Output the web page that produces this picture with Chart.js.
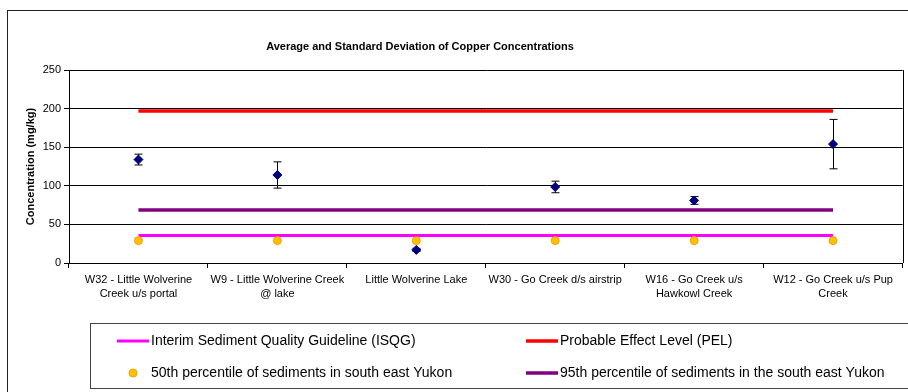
<!DOCTYPE html>
<html>
<head>
<meta charset="utf-8">
<title>Copper Concentrations</title>
<script src="https://cdn.jsdelivr.net/npm/chart.js@4.4.1/dist/chart.umd.min.js"></script>
<style>
  html, body { margin: 0; padding: 0; background: #fff; }
  canvas { display: block; }
</style>
</head>
<body>
<canvas id="copper-chart" width="908" height="392"></canvas>
<script>
// Sampling sites (two-line labels)
const sites = [
  ['W32 - Little Wolverine', 'Creek u/s portal'],
  ['W9 - Little Wolverine Creek', '@ lake'],
  'Little Wolverine Lake',
  'W30 - Go Creek d/s airstrip',
  ['W16 - Go Creek u/s', 'Hawkowl Creek'],
  ['W12 - Go Creek u/s Pup', 'Creek'],
];

// Copper, mg/kg
const copperMean = [134, 114, 17, 98.5, 81, 154];
const copperSd = [7, 17, 2, 7.5, 5, 32];

// Reference levels, mg/kg
const isqgLevel = 35.7;
const pelLevel = 197;
const p50Level = 29;
const p95Level = 68.5;

const yTicks = [0, 50, 100, 150, 200, 250];

const FONT = "'Liberation Sans', Arial, sans-serif";
Chart.defaults.font.family = FONT;
Chart.defaults.color = '#000';

const flat = (v) => sites.map(() => v);

const datasets = [
  {
    label: 'Average',
    data: copperMean,
    showLine: false,
    pointStyle: 'rectRot',
    pointRadius: 4.5,
    backgroundColor: '#000080',
    borderColor: '#000080',
    borderWidth: 1,
  },
  {
    label: '50th percentile of sediments in south east Yukon',
    data: flat(p50Level),
    showLine: false,
    pointStyle: 'circle',
    pointRadius: 4,
    backgroundColor: '#FFC000',
    borderColor: '#F5A000',
    borderWidth: 1,
  },
  {
    label: 'Interim Sediment Quality Guideline (ISQG)',
    data: flat(isqgLevel),
    borderColor: '#FF00FF',
    borderWidth: 3,
    pointRadius: 0,
  },
  {
    label: '95th percentile of sediments in the south east Yukon',
    data: flat(p95Level),
    borderColor: '#800080',
    borderWidth: 3.5,
    pointRadius: 0,
  },
  {
    label: 'Probable Effect Level (PEL)',
    data: flat(pelLevel),
    borderColor: '#FF0000',
    borderWidth: 3.5,
    pointRadius: 0,
  },
];

// error bars: mean +/- standard deviation
const errorBars = {
  id: 'errorBars',
  beforeDatasetsDraw(chart) {
    const { ctx, scales: { x, y } } = chart;
    ctx.save();
    ctx.strokeStyle = '#000';
    ctx.lineWidth = 1;
    copperMean.forEach((m, i) => {
      const px = Math.round(x.getPixelForValue(i)) + 0.5;
      const top = y.getPixelForValue(m + copperSd[i]);
      const bot = y.getPixelForValue(m - copperSd[i]);
      ctx.beginPath();
      ctx.moveTo(px, top);
      ctx.lineTo(px, bot);
      ctx.moveTo(px - 4, top);
      ctx.lineTo(px + 4, top);
      ctx.moveTo(px - 4, bot);
      ctx.lineTo(px + 4, bot);
      ctx.stroke();
    });
    ctx.restore();
  },
};

// frame, title, right edge of plot and the boxed legend
const decorations = {
  id: 'decorations',
  afterDraw(chart) {
    const { ctx, chartArea } = chart;
    ctx.save();

    ctx.strokeStyle = '#222';
    ctx.lineWidth = 1;
    ctx.strokeRect(7.5, 10.5, 1000, 1000);

    ctx.beginPath();
    ctx.moveTo(Math.round(chartArea.right) + 0.5, chartArea.top);
    ctx.lineTo(Math.round(chartArea.right) + 0.5, chartArea.bottom);
    ctx.strokeStyle = '#000';
    ctx.stroke();

    ctx.fillStyle = '#000';
    ctx.font = 'bold 11px ' + FONT;
    ctx.textAlign = 'center';
    ctx.textBaseline = 'middle';
    ctx.fillText('Average and Standard Deviation of Copper Concentrations', 420, 47);

    ctx.strokeStyle = '#444';
    ctx.strokeRect(90.5, 323.5, 900, 65);

    const ds = chart.data.datasets;
    const items = [
      { d: ds[2], x: 117, y: 341 },
      { d: ds[4], x: 526, y: 341 },
      { d: ds[1], x: 117, y: 373 },
      { d: ds[3], x: 526, y: 373 },
    ];
    ctx.font = '14px ' + FONT;
    ctx.textAlign = 'left';
    items.forEach(({ d, x, y }) => {
      if (d.showLine === false) {
        ctx.beginPath();
        ctx.arc(x + 16, y, 4, 0, Math.PI * 2);
        ctx.fillStyle = d.backgroundColor;
        ctx.fill();
        ctx.strokeStyle = d.borderColor;
        ctx.stroke();
      } else {
        ctx.beginPath();
        ctx.moveTo(x, y);
        ctx.lineTo(x + 32, y);
        ctx.strokeStyle = d.borderColor;
        ctx.lineWidth = d.borderWidth;
        ctx.stroke();
        ctx.lineWidth = 1;
      }
      ctx.fillStyle = '#000';
      ctx.fillText(d.label, x + 34, y);
    });

    ctx.restore();
  },
};

new Chart(document.getElementById('copper-chart'), {
  type: 'line',
  data: { labels: sites, datasets },
  options: {
    responsive: false,
    animation: false,
    layout: { padding: { top: 70, right: 2, left: 0, bottom: 0 } },
    plugins: {
      legend: { display: false },
      tooltip: { enabled: false },
    },
    scales: {
      x: {
        offset: true,
        afterFit(scale) { scale.height = 129; },
        grid: { offset: true, drawOnChartArea: false, tickLength: 5, color: '#000' },
        border: { color: '#000' },
        ticks: {
          maxRotation: 0,
          autoSkip: false,
          padding: 5,
          font: { size: 11, lineHeight: 1.27 },
          color: '#000',
        },
      },
      y: {
        min: 0,
        max: 250,
        afterFit(scale) { scale.width = 69; },
        afterBuildTicks(scale) { scale.ticks = yTicks.map((v) => ({ value: v })); },
        grid: { color: '#000', tickLength: 5 },
        border: { color: '#000' },
        ticks: { padding: 3, font: { size: 11 }, color: '#000' },
        title: {
          display: true,
          text: 'Concentration (mg/kg)',
          font: { size: 11, weight: 'bold' },
          padding: { top: 24, bottom: 0 },
          color: '#000',
        },
      },
    },
  },
  plugins: [errorBars, decorations],
});
</script>
</body>
</html>
